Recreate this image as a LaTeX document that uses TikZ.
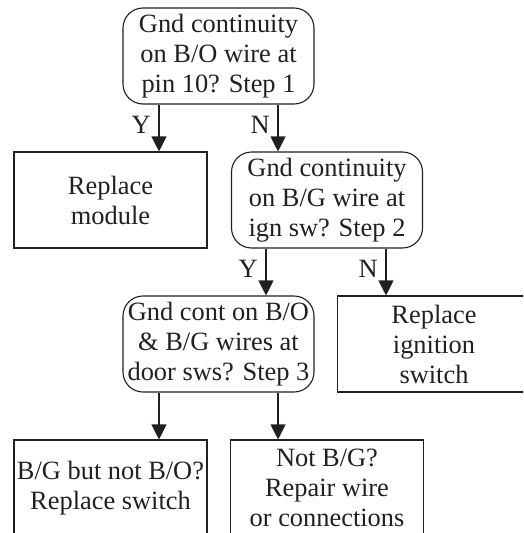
\documentclass[tikz,border=0pt]{standalone}
\usepackage{fontspec}
\setmainfont{Liberation Serif}
\usetikzlibrary{arrows.meta}
\definecolor{ink}{HTML}{231F20}
\begin{document}
\begin{tikzpicture}[x=1pt,y=-1pt,
  txt/.style={font=\fontsize{26.4}{30}\selectfont, text=ink, align=center, inner sep=0pt},
  dec/.style={txt, draw=ink, line width=1.1pt, rounded corners=20pt, minimum width=191pt, minimum height=96pt},
  act/.style={txt, draw=ink, line width=1.1pt, minimum width=193pt, minimum height=96pt},
  arr/.style={draw=ink, line width=1.1pt, -{Triangle[width=15pt,length=15pt]}},
  lab/.style={txt, anchor=east}]
\useasboundingbox (0,0) rectangle (523,533);
\clip (0,0) rectangle (523,533);
\node[dec] (b1) at (218.5,56) {Gnd continuity\\on B/O wire at\\pin 10? Step 1};
\node[act] (mod) at (110.5,200) {Replace\\module};
\node[dec] (b2) at (327,200) {Gnd continuity\\on B/G wire at\\ign sw? Step 2};
\node[dec] (b3) at (218.5,344) {Gnd cont on B/O\\\& B/G wires at\\door sws? Step 3};
\node[act] (ign) at (434,344) {Replace\\ignition\\switch};
\node[act] (r1) at (110.5,488) {B/G but not B/O?\\Replace switch};
\node[act] (r2) at (327,488) {Not B/G?\\Repair wire\\or connections};
\draw[arr] (b1.south -| 159,0) -- (mod.north -| 159,0);
\draw[arr] (b1.south -| 278,0) -- (b2.north -| 278,0);
\draw[arr] (b2.south -| 266,0) -- (b3.north -| 266,0);
\draw[arr] (b2.south -| 386,0) -- (ign.north -| 386,0);
\draw[arr] (b3.south -| 159,0) -- (r1.north -| 159,0);
\draw[arr] (b3.south -| 278,0) -- (r2.north -| 278,0);
\node[lab] (y1) at (151,125) {Y};
\node[lab] (n1) at (270,125) {N};
\node[lab] (y2) at (258,269) {Y};
\node[lab] (n2) at (378,269) {N};
\end{tikzpicture}
\end{document}
